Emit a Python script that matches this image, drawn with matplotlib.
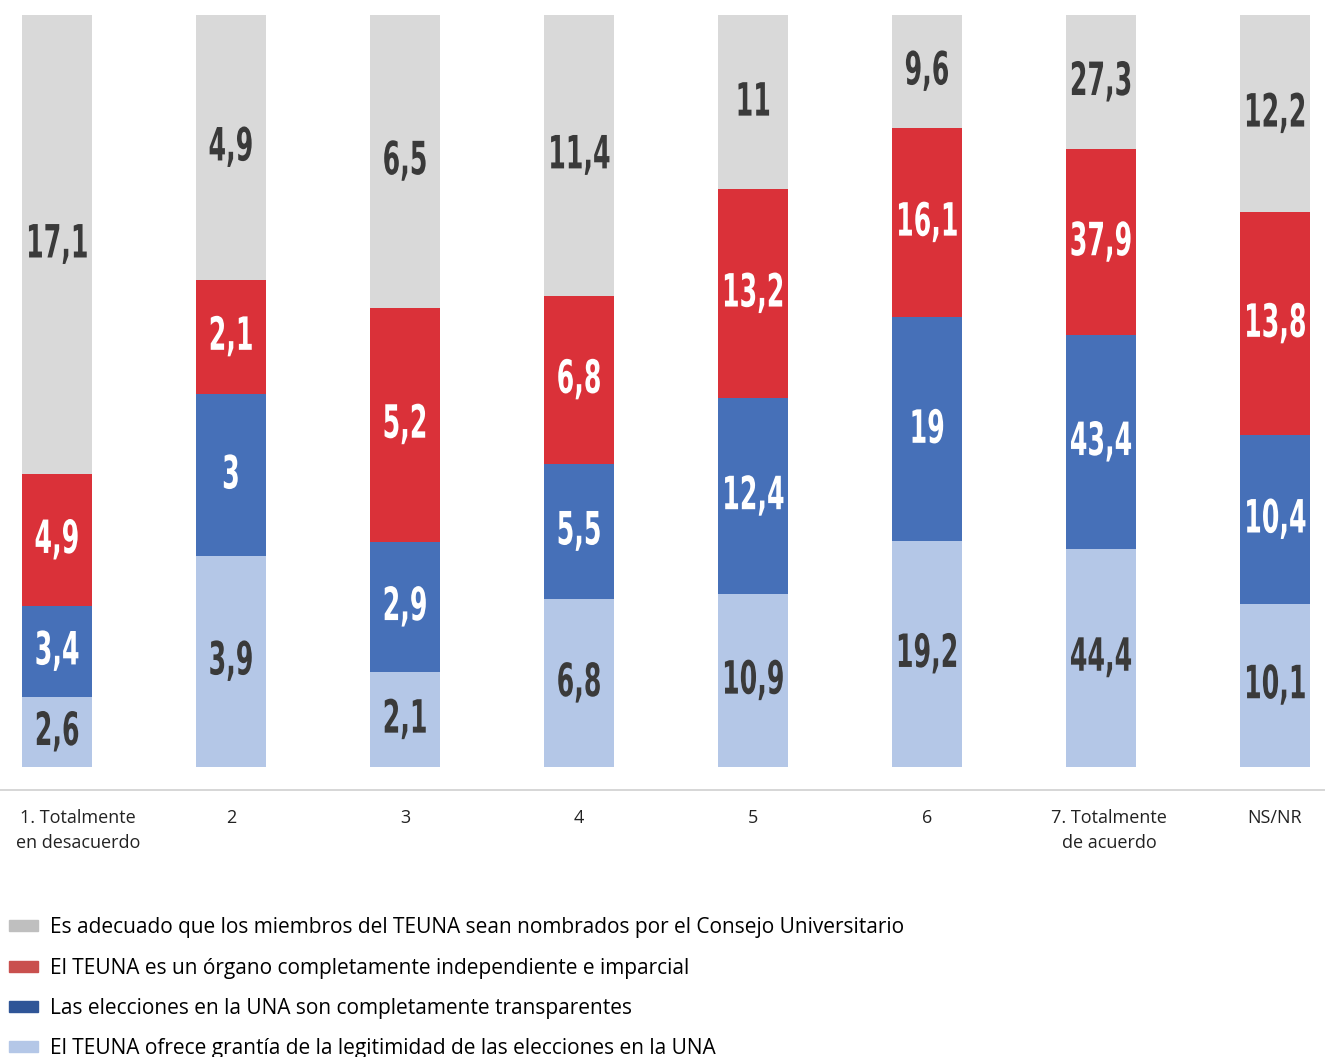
import numpy as np
import matplotlib.pyplot as plt
from matplotlib.patches import Patch
from matplotlib.patheffects import AbstractPathEffect
from matplotlib.transforms import Affine2D, ScaledTranslation

categories = ["1. Totalmente\nen desacuerdo", "2", "3", "4", "5", "6",
              "7. Totalmente\nde acuerdo", "NS/NR"]

# raw values per series (bottom to top)
garantia = [2.6, 3.9, 2.1, 6.8, 10.9, 19.2, 44.4, 10.1]
transparentes = [3.4, 3, 2.9, 5.5, 12.4, 19, 43.4, 10.4]
independiente = [4.9, 2.1, 5.2, 6.8, 13.2, 16.1, 37.9, 13.8]
adecuado = [17.1, 4.9, 6.5, 11.4, 11, 9.6, 27.3, 12.2]

legend_labels = [
    "Es adecuado que los miembros del TEUNA sean nombrados por el Consejo Universitario",
    "El TEUNA es un órgano completamente independiente e imparcial",
    "Las elecciones en la UNA son completamente transparentes",
    "El TEUNA ofrece grantía de la legitimidad de las elecciones en la UNA",
]

series = [garantia, transparentes, independiente, adecuado]
bar_colors = ["#b4c7e7", "#4670b8", "#da3139", "#d9d9d9"]
text_colors = ["#3a3a3a", "white", "white", "#3a3a3a"]
legend_colors = ["#bfbfbf", "#c9504e", "#2f5597", "#b4c7e7"]


class Condensed(AbstractPathEffect):
    # narrow and stretch the glyphs around the text centre (condensed look)
    def __init__(self, sx=0.7, sy=1.27):
        super().__init__()
        self.sx = sx
        self.sy = sy

    def draw_path(self, renderer, gc, tpath, affine, rgbFace=None):
        ext = tpath.transformed(affine).get_extents()
        cx = (ext.x0 + ext.x1) / 2
        cy = (ext.y0 + ext.y1) / 2
        aff = affine + Affine2D().translate(-cx, -cy).scale(self.sx, self.sy).translate(cx, cy)
        renderer.draw_path(gc, tpath, aff, rgbFace)


vals = np.array(series, dtype=float)
totals = vals.sum(axis=0)
pct = vals / totals * 100

fig = plt.figure(figsize=(13.25, 10.57), dpi=100)
ax = fig.add_axes([0, (1057 - 790) / 1057, 1, 775 / 1057])

x = np.arange(len(categories))
bottom = np.zeros(len(categories))
for i in range(len(series)):
    ax.bar(x, pct[i], bottom=bottom, width=0.402, color=bar_colors[i], linewidth=0)
    for j in range(len(categories)):
        v = vals[i][j]
        lab = ("%g" % v).replace(".", ",")
        ax.text(x[j], bottom[j] + pct[i][j] / 2, lab, ha="center", va="center",
                fontsize=26, fontweight="bold", color=text_colors[i],
                family="DejaVu Sans", path_effects=[Condensed(0.7, 1.27)])
    bottom += pct[i]

ax.set_xlim(-57 / 174, 7 + 50 / 174)
ax.set_ylim(-23 / 752 * 100, 100)
ax.set_yticks([])
ax.set_xticks(x)
ax.set_xticklabels(categories, fontsize=13, color="#222222", family="Open Sans",
                   multialignment="center", linespacing=1.45)
ax.tick_params(axis="x", length=0, pad=14)
labs = ax.get_xticklabels()
labs[0].set_transform(labs[0].get_transform() + ScaledTranslation(0.21, 0, fig.dpi_scale_trans))
labs[6].set_transform(labs[6].get_transform() + ScaledTranslation(0.08, 0, fig.dpi_scale_trans))
for s in ["top", "left", "right"]:
    ax.spines[s].set_visible(False)
ax.spines["bottom"].set_color("#d0d0d0")
ax.spines["bottom"].set_linewidth(1.2)

handles = [Patch(color=c) for c in legend_colors]
fig.legend(handles, legend_labels, loc="upper left", bbox_to_anchor=(0.004, 1 - 913 / 1057),
           frameon=False, prop={"family": "Open Sans", "size": 15},
           handlelength=1.35, handleheight=0.45, handletextpad=0.6,
           labelspacing=0.93, borderaxespad=0, borderpad=0.2)

fig.savefig("out.png", dpi=100)
